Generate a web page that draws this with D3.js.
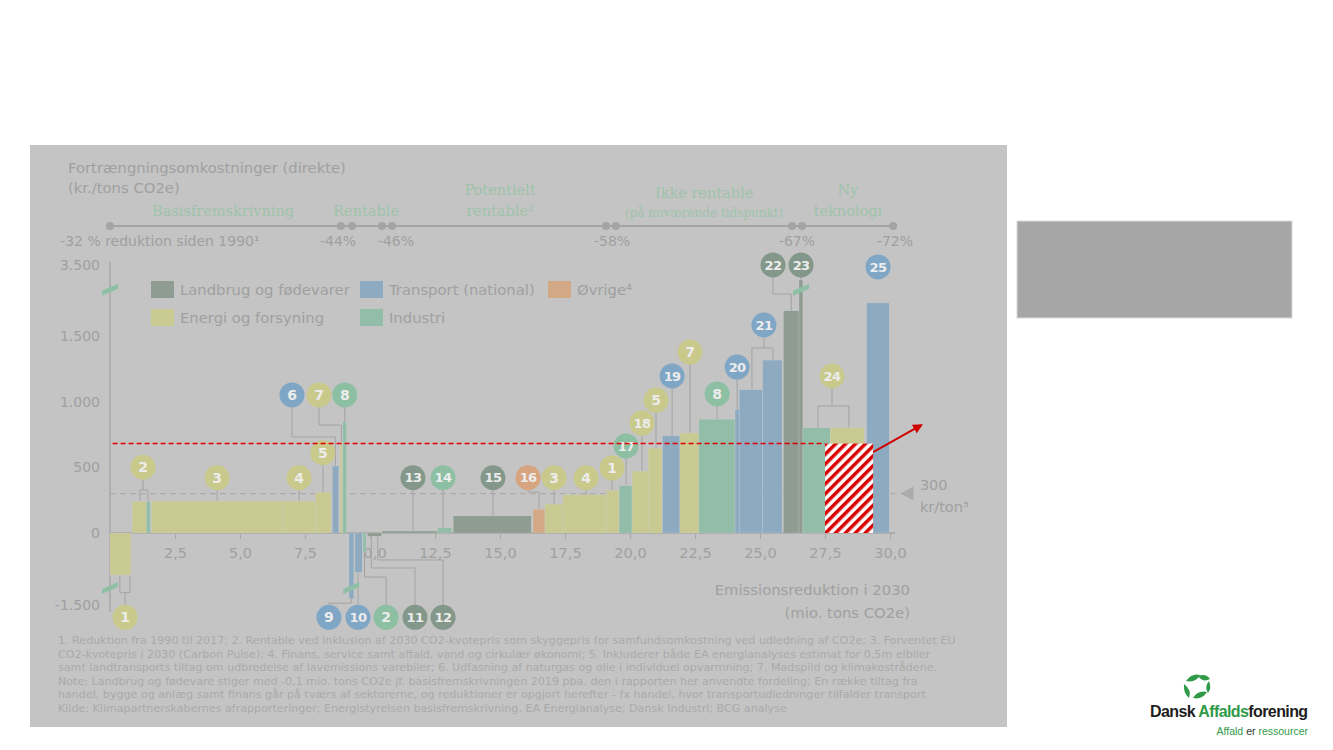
<!DOCTYPE html>
<html><head><meta charset="utf-8">
<script src="https://cdn.jsdelivr.net/npm/d3@7"></script>
<style>body{margin:0;background:#fff;} svg{display:block;}</style>
</head><body>
<svg id="c" width="1333" height="750"></svg>
<script>
// ---------- DATA ----------
const categoryKeys = ["L","T","O","E","I"];
const categoryNames = ["Landbrug og fødevarer","Transport (national)","Øvrige⁴","Energi og forsyning","Industri"];
const categoryColors = ["#8e9c91","#8daac1","#d3a985","#c9c992","#92bda8"];
const bubbleColors = ["#83978a","#80a6c5","#d6a47f","#c8c98b","#8dbfa3"];

const barStart = [0.0,0.85,1.4,1.6,6.65,7.9,8.55,8.85,8.95,9.19,9.42,9.73,9.9,10.45,12.6,13.2,16.27,16.73,17.42,19.1,19.58,20.08,20.7,21.25,21.92,22.65,24.04,24.2,25.1,25.9,26.5,26.65,27.7,29.1];
const barEnd   = [0.8,1.4,1.55,6.65,7.9,8.5,8.8,8.95,9.1,9.38,9.7,9.85,10.45,12.6,13.15,16.2,16.73,17.42,19.1,19.58,20.08,20.7,21.23,21.92,22.65,24.04,24.2,25.1,25.85,26.5,26.65,27.7,29.0,29.97];
const barValue = [-320,240,240,243,243,310,510,690,845,-1150,-300,-145,-25,15,40,130,180,220,290,325,360,470,645,740,760,865,940,1090,1315,1690,2500,800,800,1750];
const barCat   = ["E","E","I","E","E","E","T","E","I","T","T","I","L","L","I","L","O","E","E","E","I","E","E","T","E","I","T","T","T","L","L","I","E","T"];

const xTicks = [2.5,5,7.5,10,12.5,15,17.5,20,22.5,25,27.5,30];
const yTicks = [-1500,0,500,1000,1500,3500];

const bubbleLabel = ["1","2","3","4","5","6","7","8","9","10","2","11","12","13","14","15","16","3","4","1","17","18","5","19","7","8","20","21","22","23","24","25"];
const bubbleCat   = ["E","E","E","E","E","T","E","I","T","T","I","L","L","L","I","L","O","E","E","E","I","E","E","T","E","I","T","T","L","L","E","T"];
const bubbleX     = [0.58,1.27,4.12,7.27,8.19,7.0,8.04,9.03,8.42,9.54,10.62,11.73,12.81,11.65,12.81,14.73,16.08,17.08,18.31,19.31,19.85,20.46,21.0,21.62,22.31,23.35,24.12,25.15,25.5,26.58,27.77,29.54];
const bubbleY     = [-2200,500,420,420,610,1050,1050,1050,-2200,-2200,-2200,-2200,-2200,420,420,420,420,420,420,495,662,836,1011,1194,1376,1057,1262,1582,3500,3500,1194,3370];
const bubbleElbow = [-800,327,null,null,null,730,821,null,-1400,null,-335,-266,-205,null,null,null,312,null,null,null,null,null,null,null,null,null,null,1407,1817,null,966,null];
const bubbleTargets = [
  [[0.38,-320],[0.77,-320]], [[1.15,240],[1.46,240]], [[4.12,243]], [[7.27,243]], [[8.19,310]],
  [[8.67,510]], [[8.9,690]], [[9.03,845]], [[9.28,-1150]], [[9.54,-300]], [[9.79,-145]],
  [[10.05,-25]], [[10.3,-25]], [[11.65,15]], [[12.81,40]], [[14.73,130]], [[16.5,180]],
  [[17.08,220]], [[18.31,290]], [[19.31,325]], [[19.85,360]], [[20.46,470]], [[21.0,645]],
  [[21.62,740]], [[22.31,760]], [[23.35,865]], [[24.12,940]], [[24.69,1090],[25.5,1315]],
  [[26.2,1690]], [[26.58,2500]], [[27.23,800],[28.42,800]], []
];

const phaseLines = [["Basisfremskrivning"],["Rentable"],["Potentielt","rentable²"],["Ikke rentable","(på nuværende tidspunkt)"],["Ny","teknologi"]];
const phaseX = [4.35,9.85,15.0,22.85,28.38];
const milestoneDotX = [0,8.88,9.31,10.46,10.85,19.08,19.46,26.23,26.62,30.12];
const milestoneLabels = ["-32 % reduktion siden 1990¹","-44%","-46%","-58%","-67%","-72%"];
const milestoneLabelX = [-1.92,8.77,11.0,19.31,26.42,30.19];

const breakMarks = [[0,1850],[0,-530],[9.28,-530],[26.58,1850]];
const priceLineValue = 300;
const redLineValue = 680;
const hatchStart = 27.5, hatchEnd = 29.35, hatchValue = 680;
const arrowFrom = [29.35,615], arrowTo = [31.2,820];

const footnotes = [
 "1. Reduktion fra 1990 til 2017; 2. Rentable ved inklusion af 2030 CO2-kvotepris som skyggepris for samfundsomkostning ved udledning af CO2e; 3. Forventet EU",
 "CO2-kvotepris i 2030 (Carbon Pulse); 4. Finans, service samt affald, vand og cirkulær økonomi; 5. Inkluderer både EA energianalyses estimat for 0,5m elbiler",
 "samt landtransports tiltag om udbredelse af lavemissions varebiler; 6. Udfasning af naturgas og olie i individuel opvarmning; 7. Madspild og klimakostrådene.",
 "Note: Landbrug og fødevare stiger med -0,1 mio. tons CO2e jf. basisfremskrivningen 2019 pba. den i rapporten her anvendte fordeling; En række tiltag fra",
 "handel, bygge og anlæg samt finans går på tværs af sektorerne, og reduktioner er opgjort herefter - fx handel, hvor transportudledninger tilfalder transport",
 "Kilde: Klimapartnerskabernes afrapporteringer; Energistyrelsen basisfremskrivning, EA Energianalyse; Dansk Industri; BCG analyse"
];

// ---------- RENDER ----------
const svg = d3.select("#c");
const FONT = "'DejaVu Sans', Verdana, sans-serif";
const SERIF = "'DejaVu Serif', Georgia, serif";
const TXT = "#a0a0a0";
const color = k => categoryColors[categoryKeys.indexOf(k)];
const bcolor = k => bubbleColors[categoryKeys.indexOf(k)];
const loc = d3.formatLocale({decimal:",", thousands:".", grouping:[3], currency:["","kr"], minus:"-"});

const Y0 = 533, K = 0.1315;
const x = d3.scaleLinear().domain([0,30]).range([110,890]);
const y = d3.scaleLinear().domain([-1500,-400,1850,3500]).range([605, Y0+400*K, Y0-1850*K, 265]);

const defs = svg.append("defs");
const pat = defs.append("pattern").attr("id","hatch").attr("patternUnits","userSpaceOnUse")
  .attr("width",7).attr("height",7).attr("patternTransform","rotate(45)");
pat.append("rect").attr("width",7).attr("height",7).attr("fill","#fff");
pat.append("rect").attr("width",3.5).attr("height",7).attr("fill","#d90000");
defs.append("marker").attr("id","arr").attr("viewBox","0 0 10 10").attr("refX",8).attr("refY",5)
  .attr("markerWidth",5).attr("markerHeight",5).attr("orient","auto")
  .append("path").attr("d","M0,0L10,5L0,10z").attr("fill","#d00000");

// panel
svg.append("rect").attr("x",30).attr("y",145).attr("width",977).attr("height",582).attr("fill","#c4c4c4");

// header text
svg.append("text").attr("x",68).attr("y",173).attr("font-family",FONT).attr("font-size",14.8).attr("fill",TXT).text("Fortrængningsomkostninger (direkte)");
svg.append("text").attr("x",68).attr("y",193).attr("font-family",FONT).attr("font-size",14.8).attr("fill",TXT).text("(kr./tons CO2e)");

// phases
phaseLines.forEach((lines,i)=>{
  lines.forEach((t,j)=>{
    let yy, fs = 14.5;
    if (lines.length===1) yy = 216;
    else if (i===3) { yy = j===0 ? 198 : 217; if (j===1) fs = 12; }
    else yy = j===0 ? 195 : 216;
    svg.append("text").attr("x",x(phaseX[i])).attr("y",yy).attr("text-anchor","middle")
      .attr("font-family",SERIF).attr("font-size",fs).attr("fill","#9ec3aa").text(t);
  });
});
// milestone line
svg.append("line").attr("x1",x(milestoneDotX[0])).attr("x2",x(milestoneDotX[milestoneDotX.length-1]))
  .attr("y1",226).attr("y2",226).attr("stroke","#a4a4a4").attr("stroke-width",2);
svg.selectAll(".mdot").data(milestoneDotX).join("circle").attr("cx",d=>x(d)).attr("cy",226).attr("r",4).attr("fill","#a4a4a4");
milestoneLabels.forEach((t,i)=>{
  svg.append("text").attr("x",x(milestoneLabelX[i])).attr("y",246).attr("text-anchor", i===0?"start":"middle")
    .attr("font-family",FONT).attr("font-size",14).attr("fill",TXT).text(t);
});

// legend
const legX = [151,360,548,151,360], legY = [281,281,281,309,309];
categoryNames.forEach((n,i)=>{
  svg.append("rect").attr("x",legX[i]).attr("y",legY[i]).attr("width",23).attr("height",17).attr("fill",categoryColors[i]);
  svg.append("text").attr("x",legX[i]+29).attr("y",legY[i]+14).attr("font-family",FONT).attr("font-size",14.8).attr("fill",TXT).text(n);
});

// y axis
svg.append("line").attr("x1",110).attr("x2",110).attr("y1",262).attr("y2",612).attr("stroke","#a8a8a8").attr("stroke-width",1.5);
svg.selectAll(".ytl").data(yTicks).join("text").attr("x",100).attr("y",d=>y(d)+5).attr("text-anchor","end")
  .attr("font-family",FONT).attr("font-size",14).attr("fill",TXT).text(d=>loc.format(",d")(d));

// x axis
const xa = svg.append("g").attr("transform",`translate(0,${Y0})`)
  .call(d3.axisBottom(x).tickValues(xTicks).tickSize(6).tickPadding(9).tickFormat(loc.format(".1f")));
xa.select(".domain").remove();
xa.selectAll("line").attr("stroke","#a8a8a8");
xa.selectAll("text").attr("font-family",FONT).attr("font-size",14.5).attr("fill",TXT);
svg.append("line").attr("x1",x(0)).attr("x2",x(30.2)).attr("y1",Y0).attr("y2",Y0).attr("stroke","#aaaaaa").attr("stroke-width",2);

// 300 price line
svg.append("line").attr("x1",x(0)).attr("x2",x(30.2)).attr("y1",y(priceLineValue)).attr("y2",y(priceLineValue))
  .attr("stroke","#ababab").attr("stroke-width",1.3).attr("stroke-dasharray","6,4");
svg.append("path").attr("d",`M${x(30.4)},${y(priceLineValue)}l13,-7v14z`).attr("fill","#ababab");
svg.append("text").attr("x",x(31.15)).attr("y",y(priceLineValue)-4).attr("font-family",FONT).attr("font-size",14.5).attr("fill",TXT).text("300");
svg.append("text").attr("x",x(31.15)).attr("y",y(priceLineValue)+18).attr("font-family",FONT).attr("font-size",14.5).attr("fill",TXT).text("kr/ton³");

// connectors
const cg = svg.append("g").attr("stroke","#a3a3a3").attr("stroke-width",1).attr("fill","none");
bubbleLabel.forEach((lab,i)=>{
  const t = bubbleTargets[i]; if (!t.length) return;
  const bx = x(bubbleX[i]), by = y(bubbleY[i]);
  if (bubbleElbow[i]===null) {
    cg.append("path").attr("d",`M${bx},${by}V${y(t[0][1])}`);
  } else {
    const ey = y(bubbleElbow[i]);
    const xs = t.map(d=>x(d[0])).concat([bx]);
    let d = `M${bx},${by}V${ey}M${d3.min(xs)},${ey}H${d3.max(xs)}`;
    t.forEach(p=>{ d += `M${x(p[0])},${ey}V${y(p[1])}`; });
    cg.append("path").attr("d",d);
  }
});

// bars
svg.append("g").selectAll("rect").data(barValue.map((v,i)=>i)).join("rect")
  .attr("x",i=>x(barStart[i])).attr("width",i=>x(barEnd[i])-x(barStart[i]))
  .attr("y",i=>Math.min(y(barValue[i]),y(0))).attr("height",i=>Math.abs(y(barValue[i])-y(0)))
  .attr("fill",i=>color(barCat[i])).attr("stroke","#d2d2d2").attr("stroke-width",0.5).attr("stroke-opacity",0.6);

// break marks
svg.selectAll(".brk").data(breakMarks).join("path")
  .attr("d",d=>`M${x(d[0])-8},${y(d[1])+3}L${x(d[0])+8},${y(d[1])-4}L${x(d[0])+8},${y(d[1])+1}L${x(d[0])-8},${y(d[1])+8}Z`)
  .attr("transform","translate(0,-2)").attr("fill","#8fbfa5");

// bubbles
const bg = svg.append("g").selectAll("g").data(bubbleLabel.map((d,i)=>i)).join("g")
  .attr("transform",i=>`translate(${x(bubbleX[i])},${y(bubbleY[i])})`);
bg.append("circle").attr("r",12.5).attr("fill",i=>bcolor(bubbleCat[i]));
bg.append("text").attr("text-anchor","middle").attr("dy","0.36em").attr("font-family",FONT).attr("font-weight","bold")
  .attr("font-size",i=>bubbleLabel[i].length>1?13:14).attr("fill","#ececec").attr("letter-spacing",i=>bubbleLabel[i].length>1?-0.6:0)
  .text(i=>bubbleLabel[i]);

// axis title
svg.append("text").attr("x",910).attr("y",595).attr("text-anchor","end").attr("font-family",FONT).attr("font-size",14.8).attr("fill",TXT).text("Emissionsreduktion i 2030");
svg.append("text").attr("x",910).attr("y",618).attr("text-anchor","end").attr("font-family",FONT).attr("font-size",14.8).attr("fill",TXT).text("(mio. tons CO2e)");

// red overlay
svg.append("line").attr("x1",x(0.1)).attr("x2",x(hatchStart)).attr("y1",y(redLineValue)).attr("y2",y(redLineValue))
  .attr("stroke","#e00000").attr("stroke-width",1.5).attr("stroke-dasharray","5,3");
svg.append("rect").attr("x",x(hatchStart)).attr("width",x(hatchEnd)-x(hatchStart)).attr("y",y(hatchValue)).attr("height",y(0)-y(hatchValue)).attr("fill","url(#hatch)");
svg.append("line").attr("x1",x(arrowFrom[0])).attr("y1",y(arrowFrom[1])).attr("x2",x(arrowTo[0])).attr("y2",y(arrowTo[1]))
  .attr("stroke","#d00000").attr("stroke-width",2).attr("marker-end","url(#arr)");

// footnotes
footnotes.forEach((t,i)=>{
  svg.append("text").attr("x",58).attr("y",644+i*13.5).attr("font-family",FONT).attr("font-size",11.1).attr("fill","#aaaaaa").text(t);
});

// right box
svg.append("rect").attr("x",1017).attr("y",221).attr("width",275).attr("height",97).attr("fill","#a6a6a6").attr("stroke","#dadada").attr("stroke-width",1);

// logo
const lg = svg.append("g");
const G = "#2f9a47";
lg.append("path").attr("d","M1186,681 q6,-8 14,-6 q-4,8 -14,6z").attr("fill",G);
lg.append("path").attr("d","M1198,676 q8,-3 12,3 q-7,4 -12,-3z").attr("fill",G);
lg.append("path").attr("d","M1184,684 q-1,9 5,14 q3,-8 -5,-14z").attr("fill",G);
lg.append("path").attr("d","M1193,698 q9,2 14,-6 q-9,-2 -14,6z").attr("fill",G);
lg.append("path").attr("d","M1209,681 q3,7 -1,12 q-4,-6 1,-12z").attr("fill",G);
const lt = lg.append("text").attr("x",1150).attr("y",717).attr("font-family","'Liberation Sans', Arial, sans-serif").attr("font-weight","bold").attr("font-size",16).attr("letter-spacing",-0.6);
lt.append("tspan").attr("fill","#1e1e1e").text("Dansk ");
lt.append("tspan").attr("fill",G).text("Affalds");
lt.append("tspan").attr("fill","#1e1e1e").text("forening");
const tg = lg.append("text").attr("x",1308).attr("y",735).attr("text-anchor","end").attr("font-family","'Liberation Sans', Arial, sans-serif").attr("font-size",10.5);
tg.append("tspan").attr("fill",G).text("Affald ");
tg.append("tspan").attr("fill","#333").text("er ");
tg.append("tspan").attr("fill",G).text("ressourcer");
</script>
</body></html>
